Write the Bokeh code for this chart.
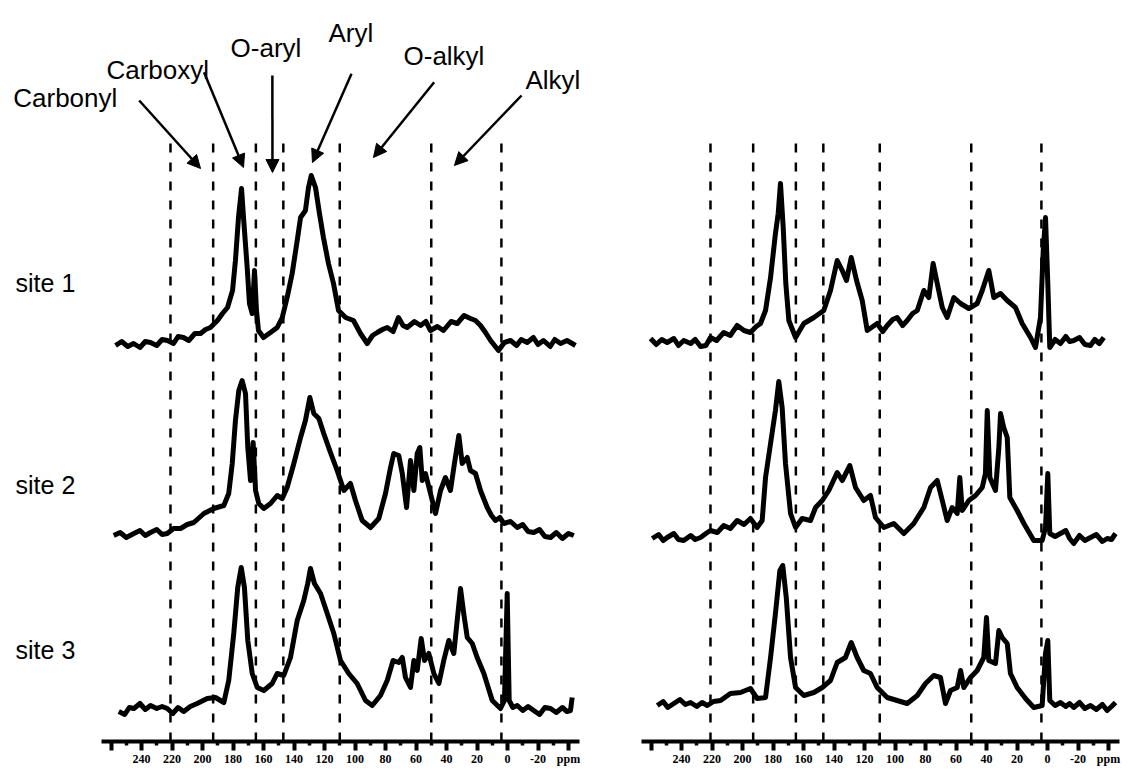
from bokeh.plotting import figure
from bokeh.layouts import row
from bokeh.models import Range1d, FixedTicker, Arrow, NormalHead
from bokeh.core.properties import value
from bokeh.embed import file_html
from bokeh.resources import INLINE

# ---------------- data ----------------
site_names = ["site 1", "site 2", "site 3"]
region_names = ["Carbonyl", "Carboxyl", "O-aryl", "Aryl", "O-alkyl", "Alkyl"]
boundaries_ppm = [221, 193, 165, 147, 110, 50, 4]

tick_values = [260, 240, 220, 200, 180, 160, 140, 120, 100, 80, 60, 40, 20, 0, -20, -40]
tick_labels = ["", "240", "220", "200", "180", "160", "140", "120", "100", "80", "60",
               "40", "20", "0", "-20", "ppm"]
minor_tick_values = [250, 230, 210, 190, 170, 150, 130, 110, 90, 70, 50, 30, 10, -10, -30]

# left panel spectra (ppm, intensity)
L1_ppm = [257.0, 253, 249, 245.2, 241, 237.5, 234.1, 230, 226.5, 223.0, 219, 216, 212.5, 209,
          205, 201.3, 198, 194.8, 190.2, 186.9, 183.6, 180.3, 178.4,
          176.4, 174.4, 173.1, 170.7, 169.2, 167.4, 165.9, 164.6, 163.3, 160.0, 155.4, 151.0,
          147.7, 144.5, 141.2, 137.9, 135.7, 132.5, 130.5, 128.7, 125.9, 123.3, 120.7, 117.4,
          114.1, 110.8, 106.2, 101.0, 96.4, 92.0, 88.5, 85.4, 82, 78.9, 75, 71.5, 68.5, 65.8,
          61, 57.0, 53.5, 50.5, 46, 42.0, 37, 33.0, 28.5, 24.3, 21, 17.7, 14, 11.1, 5.9, 2,
          -2.0, -6, -9, -12.9, -17, -20, -23.6, -28, -31, -34.8, -39, -44.6]
L1_int = [0, 4, -1, 2, -2, 4, 3, 0, 6, 5, 2, 9, 8, 5,
          12, 12, 16, 18, 25, 32, 38, 55, 85,
          128, 157, 128, 78, 42, 32, 75, 35, 15, 8, 13, 18,
          28, 48, 72, 105, 128, 135, 158, 170, 158, 132, 108, 82,
          62, 35, 28, 25, 12, 2, 10, 13, 16, 18, 14, 28, 20, 18,
          24, 20, 24, 15, 19, 15, 24, 22, 30, 27, 25, 20, 12, 5, -5, 3,
          5, 0, 6, 3, 8, 1, 5, -1, 6, 2, 5, 0]

L2_ppm = [258.2, 254, 250, 245.0, 241, 237.5, 234.1, 230, 226.5, 223.1, 219, 214.4, 210,
          205.7, 202, 199.1, 192.6, 186.0, 182.8, 180.5, 178.4,
          176.2, 174.0, 171.8, 170.3, 168.5, 166.8, 165.2, 163.1, 159.8, 155.4, 151.0, 147.7,
          144.5, 140.1, 135.7, 132.5, 129.6, 127.0, 123.7, 120.5, 116.1, 111.7, 107.3, 103.0,
          99.7, 95.3, 89.8, 84.4, 80.0, 76.7, 74.6, 71.3, 69.0, 66.2, 63.6, 61.4, 59.2, 57.5,
          55.9, 53.8, 50.5, 47.2, 43.9, 40.7, 37.4, 34.8, 31.9, 29.7, 26.4, 24.3, 21.0, 17.7,
          13.3, 10.5, 7.9, 5, 2.4, -2, -6.4, -10, -13.5, -17.2, -21, -24.5, -28.2, -32, -36,
          -40, -43.5]
L2_int = [2, 5, 0, 4, 7, 2, 5, 8, 3, 4, 9, 9, 13,
          15, 20, 24, 29, 32, 44, 74, 117,
          147, 157, 144, 90, 57, 95, 47, 34, 29, 34, 42, 39,
          50, 74, 100, 117, 140, 124, 119, 104, 85, 67, 47, 54,
          37, 17, 10, 19, 44, 70, 84, 82, 64, 30, 77, 47, 84, 90,
          57, 64, 44, 24, 47, 60, 47, 74, 102, 74, 80, 67, 64, 47,
          30, 22, 17, 20, 14, 16, 10, 13, 6, 5, 8, 1, 0, 5, -1,
          4, 2]

L3_ppm = [254.9, 251, 248, 245.0, 241, 237.5, 234.1, 230, 226.5, 223.1, 219.5, 216, 212.3, 208,
          203.5, 196.9, 191.5, 186.0, 182.8, 179.5, 176.9,
          174.6, 172.5, 170.3, 167.4, 164.1, 159.8, 154.3, 151.0, 146.7, 142.3, 137.9, 133.6,
          131.0, 129.2, 126.6, 122.6, 118.2, 113.9, 109.5, 104.1, 98.6, 93.1, 88.7, 83.3, 78.9,
          75.0, 71.3, 69.0, 66.9, 63.6, 61.4, 59.2, 56.6, 54.4, 51.6, 48.3, 45.0, 41.8, 38.5,
          35.2, 33.0, 30.8, 28.7, 26.4, 23.1, 19.9, 15.5, 10.0, 4.6, 2.0, 0.2, -1.1, -3.5, -6.4,
          -10, -13.5, -17.2, -21, -24.5, -28.2, -32, -36, -39, -41.3, -42.4]
L3_int = [0, -3, 4, 3, 8, 2, 6, 3, 5, 3, -2, 4, 0, 5,
          8, 13, 14, 9, 31, 78, 124,
          144, 124, 71, 38, 24, 21, 28, 38, 36, 54, 91, 111,
          128, 143, 128, 118, 98, 78, 51, 38, 28, 11, 6, 16, 31,
          51, 49, 54, 34, 24, 51, 41, 73, 51, 58, 38, 28, 51, 71,
          58, 91, 123, 98, 74, 68, 54, 38, 11, 3, 11, 118, 11, 4, 6,
          1, 5, 1, -3, 4, 3, -1, 4, 0, 1, 14]

# right panel spectra (ppm, intensity)
R1_ppm = [260.3, 256.5, 253, 249.4, 245, 242, 238.5, 234, 231, 227.5, 224, 221.0, 217, 212.3,
          208, 203.5, 199, 194.8, 191, 188.2, 184.9, 181.6, 178.4,
          176.6, 175.1, 173.3, 171.6, 169.6, 165.2, 159.8, 153.2, 146.7, 142.3, 137.9, 134.6,
          131.8, 128.7, 125.2, 121.5, 118.2, 111.7, 108, 105.1, 101.5, 98.6, 95, 92.0, 88.5,
          85.4, 81.1, 77.8, 75.0,
          72.3, 69.0, 65.8, 61.4, 57.0, 51.6, 46.1, 42.8, 38.5, 35.2, 30.8, 26.4, 21.0, 16.6,
          11.1, 7.9, 4.6, 2.8, 1.3, -0.2, -1.5, -5, -8.5, -12, -14.5, -17.2, -21, -24.5, -28.2,
          -31, -34, -36.9]
R1_int = [5, -1, 4, 1, 5, -2, 3, 0, 4, -3, -2, 6, 3, 11,
          8, 18, 13, 11, 17, 20, 33, 66, 110,
          130, 160, 116, 60, 23, 6, 20, 26, 33, 53, 83, 73,
          63, 86, 63, 43, 13, 20, 12, 18, 24, 26, 18, 23, 30,
          33, 53, 46, 80,
          60, 36, 26, 46, 40, 35, 40, 53, 73, 46, 50, 43, 36, 20,
          6, -4, 26, 93, 126, 60, -4, 4, 0, 7, 2, 3, 6, -1, -2,
          4, 0, 6]

R2_ppm = [259.2, 255, 252, 249.4, 245, 242, 238.5, 234, 231, 227.5, 224, 221.0, 216.5, 212.3,
          208, 203.5, 199, 194.8, 190.4, 187.1, 184.9, 181.6,
          178.4, 176.2, 174.0, 171.8, 168.5, 165.2, 160.9, 155.4, 152.1, 147.7, 143.4, 137.9,
          134.6, 129.6, 125.9, 120.5, 116.1, 112.8, 107.3, 100.8, 94.2, 87.7, 81.1, 76.7, 72.3,
          69.0, 65.8, 62.5, 59.2, 57.5, 55.9, 51.6, 47.2, 42.8, 40.7, 39.5, 37.8, 34.1, 31.9,
          30.8, 28.7, 26.4, 24.7, 19.9, 15.5, 9.0, 3.5, 1.3, -0.2, -1.5, -5, -8.5, -12, -14.5,
          -17.2, -21, -24.5, -28.2, -32, -36, -39.1, -42, -44.6]
R2_int = [0, 4, -2, 1, 5, -1, -2, 3, -1, 1, 5, 8, 6, 13,
          10, 18, 14, 20, 11, 18, 61, 95,
          128, 157, 131, 75, 25, 11, 20, 18, 31, 38, 48, 66,
          58, 73, 51, 38, 43, 21, 11, 15, 5, 15, 31, 51, 58,
          38, 18, 31, 25, 61, 28, 38, 43, 51, 65, 128, 61, 48, 91,
          125, 111, 101, 41, 28, 15, -2, -2, 11, 65, 5, 2, 5, 8, 0,
          -5, 3, -2, 1, 4, -3, 0, -1, 5]

R3_ppm = [255.9, 252, 249, 245.0, 241, 237.5, 234.1, 230, 226.5, 223.1, 219, 214.4, 207.9,
          201.3, 194.8, 190.4, 184.9, 181.6, 178.4,
          175.5, 173.6, 171.3, 168.5, 165.2, 159.8, 153.2, 147.7, 142.3, 137.9, 132.5, 128.7,
          124.8, 120.5, 116.1, 111.7, 105.1, 98.6, 92.0, 85.4, 80.0, 74.6, 70.2, 66.9, 63.6,
          59.2, 57.0, 54.9, 50.5, 46.1, 41.8, 40.0, 38.5, 34.1, 31.9, 29.7, 26.4, 24.3, 19.9,
          14.4, 9.0, 3.5, 1.3, -0.2, -1.5, -5, -8.5, -12, -14.5, -17.2, -21, -24.5, -28.2, -32,
          -36, -39.1, -42, -44.6]
R3_int = [2, 6, 0, 4, 8, 3, 5, 1, 5, 2, 6, 7, 14,
          15, 19, 9, 10, 50, 94,
          137, 142, 110, 50, 20, 12, 15, 20, 27, 45, 50, 65,
          50, 37, 34, 20, 10, 7, 4, 12, 24, 32, 30, 4, 17,
          20, 37, 20, 30, 37, 50, 90, 47, 44, 77, 70, 64, 34, 20,
          9, 0, 2, 54, 67, 7, 2, 5, 1, 4, 0, 5, -1, 2, -2,
          3, -3, 1, 5]

# ---------------- layout constants (not data) ----------------
PX_PER_PPM = 1.525
FRAME_H = 741
LEFT_W, RIGHT_W = 598, 526
LEFT_ZERO_PX, RIGHT_ZERO_PX = 507, 1047 - 598   # pixel of 0 ppm inside each frame
left_offsets = [396, 204, 30]
right_offsets = [398, 203, 34]
dash_top = 606
site_label_y = [459, 257, 92]
site_label_ppm = 322.6
region_label_ppm = [324.1, 263.0, 181.6, 117.4, 68.2, -11.8]
region_label_y = [644, 672, 694, 709, 686, 662]
arrow_start = [(241.5, 641.0), (199.0, 669.3), (154.2, 666.0), (102.3, 667.7), (48.1, 659.3), (-9.2, 646.0)]
arrow_end = [(201.3, 573.0), (173.1, 574.0), (154.1, 569.0), (127.9, 579.0), (87.9, 584.0), (34.8, 576.0)]

FONT = "Liberation Sans"


def make_panel(width, zero_px, spectra, offsets):
    x_start = zero_px / PX_PER_PPM
    x_end = -(width - zero_px) / PX_PER_PPM
    p = figure(frame_width=width, frame_height=FRAME_H,
               x_range=Range1d(x_start, x_end), y_range=Range1d(0, FRAME_H),
               y_axis_location=None, toolbar_location=None, output_backend="svg",
               min_border=0, min_border_left=0, min_border_right=0, min_border_top=0,
               min_border_bottom=0)
    p.outline_line_color = None
    p.xgrid.visible = False
    p.ygrid.visible = False
    p.background_fill_color = "white"
    p.border_fill_color = "white"

    ax = p.xaxis[0]
    ax.ticker = FixedTicker(ticks=tick_values, minor_ticks=minor_tick_values)
    ax.major_label_overrides = {t: l for t, l in zip(tick_values, tick_labels)}
    ax.bounds = (266, -47)
    ax.axis_line_width = 4
    ax.axis_line_color = "black"
    ax.major_tick_line_width = 4
    ax.major_tick_out = 9
    ax.major_tick_in = 0
    ax.minor_tick_line_width = 3.5
    ax.minor_tick_out = 4
    ax.minor_tick_in = 0
    ax.major_label_standoff = 1
    ax.major_label_text_font = "Liberation Sans Narrow"
    ax.major_label_text_font_style = "bold"
    ax.major_label_text_font_size = "12px"
    ax.major_label_text_color = "black"

    # dashed region boundaries
    p.segment(x0=boundaries_ppm, x1=boundaries_ppm, y0=[0] * len(boundaries_ppm),
              y1=[dash_top] * len(boundaries_ppm), line_color="black", line_width=2.5,
              line_dash="9 10")

    for (ppm, inten), off in zip(spectra, offsets):
        ys = [v + off for v in inten]
        p.line(ppm, ys, line_color="black", line_width=5, line_join="round")
    return p


left = make_panel(LEFT_W, LEFT_ZERO_PX,
                  [(L1_ppm, L1_int), (L2_ppm, L2_int), (L3_ppm, L3_int)], left_offsets)
right = make_panel(RIGHT_W, RIGHT_ZERO_PX,
                   [(R1_ppm, R1_int), (R2_ppm, R2_int), (R3_ppm, R3_int)], right_offsets)

# site labels
left.text(x=[site_label_ppm] * 3, y=site_label_y, text=site_names,
          text_font=value(FONT), text_font_size="25px", text_baseline="middle",
          text_align="left", text_color="black")

# region labels and arrows
left.text(x=region_label_ppm, y=region_label_y, text=region_names,
          text_font=value(FONT), text_font_size="26px", text_baseline="alphabetic",
          text_align="left", text_color="black")
for (xs, ys), (xe, ye) in zip(arrow_start, arrow_end):
    left.add_layout(Arrow(end=NormalHead(size=13, fill_color="black", line_color="black",
                                         line_width=1),
                          x_start=xs, y_start=ys, x_end=xe, y_end=ye,
                          line_color="black", line_width=2.5))

layout = row(left, right, spacing=0)
open("out.html", "w").write(file_html(layout, INLINE))
